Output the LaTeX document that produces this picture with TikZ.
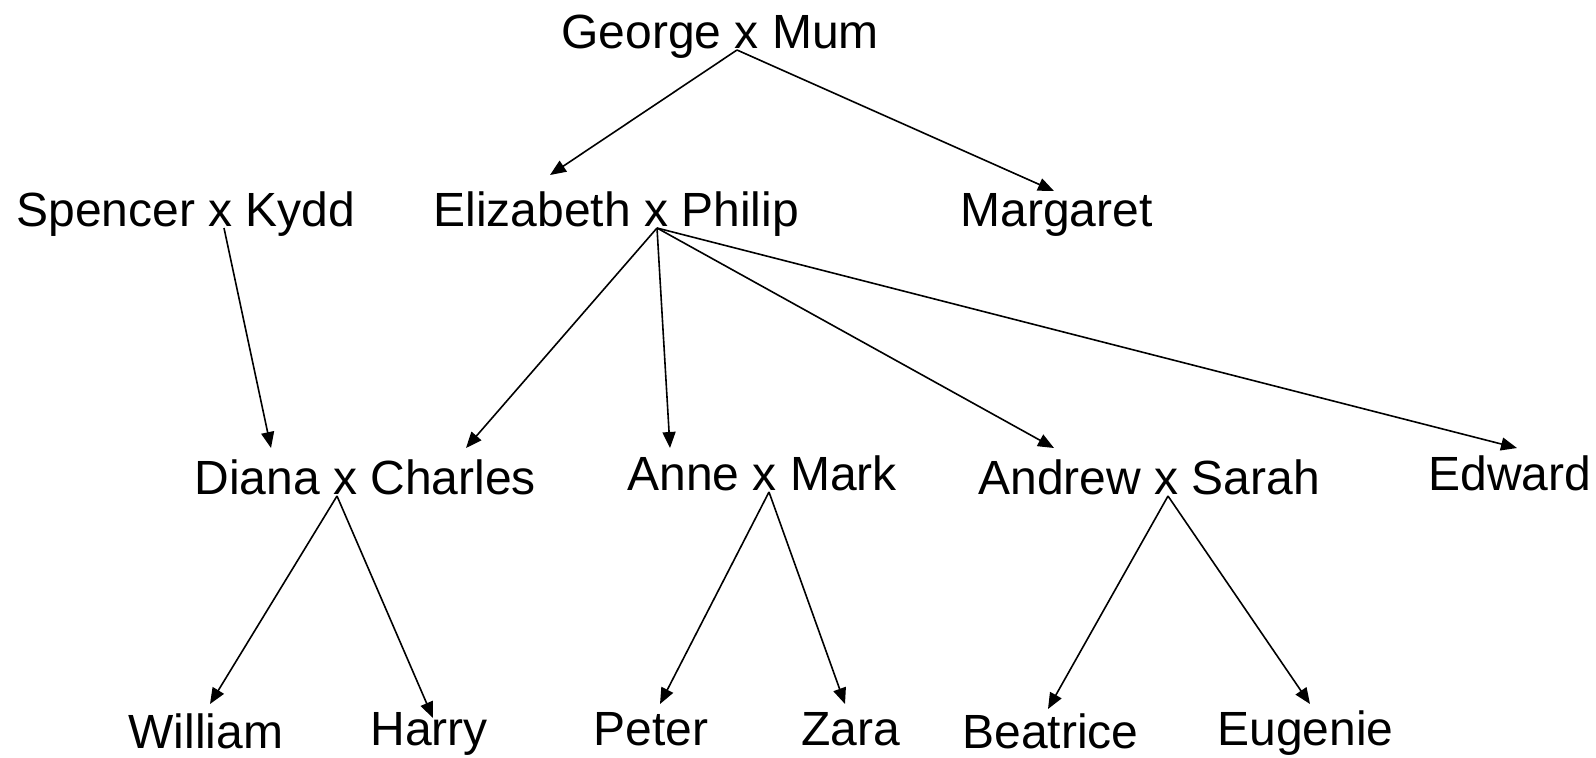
\documentclass[tikz,border=0pt]{standalone}
\usepackage{fontspec}
\setmainfont{Liberation Sans}
\usetikzlibrary{arrows.meta}
\begin{document}
\begin{tikzpicture}[x=0.5pt,y=-0.5pt,
  person/.style={anchor=base west,inner sep=0pt,font=\fontsize{24}{28}\selectfont},
  rel/.style={line width=0.8pt,-{Triangle[length=8pt,width=6.5pt]}}]
\useasboundingbox (0,0) rectangle (1596,757);
% nodes
\node[person] (gm) at (561,48) {George x Mum};
\node[person] (sk) at (16,226) {Spencer x Kydd};
\node[person] (ep) at (433,226) {Elizabeth x Philip};
\node[person] (mg) at (960,226) {Margaret};
\node[person] (dc) at (194,494) {Diana x Charles};
\node[person] (am) at (627,490) {Anne x Mark};
\node[person] (as) at (978,494) {Andrew x Sarah};
\node[person] (ed) at (1428,490) {Edward};
\node[person] (wi) at (128,748) {William};
\node[person] (ha) at (370,745) {Harry};
\node[person] (pe) at (593,745) {Peter};
\node[person] (za) at (801,745) {Zara};
\node[person] (be) at (962,748) {Beatrice};
\node[person] (eu) at (1217,745) {Eugenie};
% connector ends
\coordinate (gm-o) at (737,50);
\coordinate (sk-o) at (224,228);
\coordinate (ep-o) at (657,228);
\coordinate (dc-o) at (337,496);
\coordinate (am-o) at (769,492);
\coordinate (as-o) at (1168,496);
\coordinate (ep-i) at (550,175);
\coordinate (mg-i) at (1054,191);
\coordinate (dc-i1) at (271,448);
\coordinate (dc-i2) at (466,448);
\coordinate (am-i) at (670,448);
\coordinate (as-i) at (1054,448);
\coordinate (ed-i) at (1517,448);
\coordinate (wi-i) at (210,704);
\coordinate (ha-i) at (433,718);
\coordinate (pe-i) at (660,704);
\coordinate (za-i) at (845,704);
\coordinate (be-i) at (1048,709);
\coordinate (eu-i) at (1310,704);
% connectors
\draw[rel] (gm-o) -- (ep-i);
\draw[rel] (gm-o) -- (mg-i);
\draw[rel] (sk-o) -- (dc-i1);
\draw[rel] (ep-o) -- (dc-i2);
\draw[rel] (ep-o) -- (am-i);
\draw[rel] (ep-o) -- (as-i);
\draw[rel] (ep-o) -- (ed-i);
\draw[rel] (dc-o) -- (wi-i);
\draw[rel] (dc-o) -- (ha-i);
\draw[rel] (am-o) -- (pe-i);
\draw[rel] (am-o) -- (za-i);
\draw[rel] (as-o) -- (be-i);
\draw[rel] (as-o) -- (eu-i);
\end{tikzpicture}
\end{document}
